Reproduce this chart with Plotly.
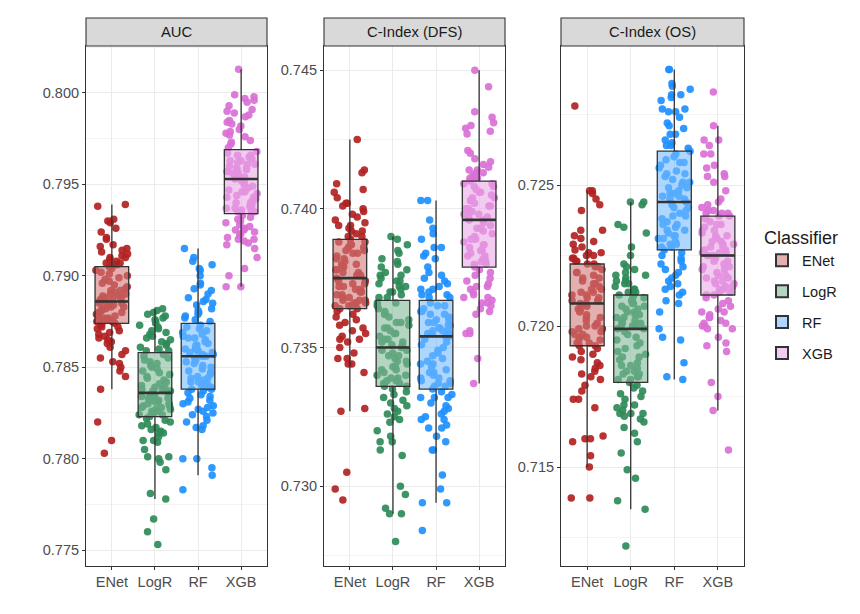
import math
import plotly.graph_objects as go

classifiers = ["ENet", "LogR", "RF", "XGB"]
panels = ["AUC", "C-Index (DFS)", "C-Index (OS)"]
colors = ["#B22222", "#2E8B57", "#1E90FF", "#DA70D6"]

# ---------------- AUC ----------------
auc_enet = [0.7939, 0.7938, 0.7931, 0.7930, 0.7929, 0.7926, 0.7924, 0.7920, 0.7917, 0.7915, 0.7914, 0.7913, 0.7912, 0.7911, 0.7910, 0.7910, 0.7909, 0.7908, 0.7907, 0.7907, 0.7906, 0.7906, 0.7905, 0.7916, 0.7921,
            0.7904, 0.7903, 0.7902, 0.7901, 0.7900, 0.7899, 0.7898, 0.7897, 0.7896, 0.7895, 0.7894, 0.7893, 0.7892, 0.7892, 0.7891, 0.7890, 0.7890, 0.7889, 0.7889, 0.7888, 0.7888, 0.7887, 0.7887, 0.7886, 0.7886,
            0.7885, 0.7885, 0.7884, 0.7884, 0.7883, 0.7883, 0.7882, 0.7882, 0.7881, 0.7881, 0.7880, 0.7880, 0.7879, 0.7879, 0.7878, 0.7878, 0.7877, 0.7877, 0.7876, 0.7876, 0.7875, 0.7875, 0.7875, 0.7874, 0.7874,
            0.7873, 0.7872, 0.7872, 0.7871, 0.7870, 0.7869, 0.7868, 0.7867, 0.7866, 0.7865, 0.7864, 0.7863, 0.7861, 0.7859, 0.7857, 0.7855, 0.7853, 0.7852, 0.7850, 0.7848, 0.7845, 0.7838, 0.7820, 0.7810, 0.7803]
auc_logr = [0.7882, 0.7881, 0.7880, 0.7879, 0.7878, 0.7877, 0.7876, 0.7875, 0.7874, 0.7873, 0.7872, 0.7871, 0.7870, 0.7869, 0.7868, 0.7867, 0.7866, 0.7865, 0.7864, 0.7863, 0.7862, 0.7861, 0.7860, 0.7859, 0.7859,
            0.7857, 0.7856, 0.7855, 0.7854, 0.7853, 0.7852, 0.7851, 0.7850, 0.7849, 0.7848, 0.7847, 0.7846, 0.7845, 0.7844, 0.7843, 0.7842, 0.7841, 0.7840, 0.7839, 0.7839, 0.7838, 0.7838, 0.7837, 0.7837, 0.7836,
            0.7835, 0.7835, 0.7834, 0.7834, 0.7833, 0.7833, 0.7832, 0.7832, 0.7831, 0.7831, 0.7830, 0.7830, 0.7829, 0.7829, 0.7828, 0.7828, 0.7827, 0.7827, 0.7826, 0.7826, 0.7825, 0.7825, 0.7824, 0.7824, 0.7823,
            0.7822, 0.7821, 0.7820, 0.7819, 0.7818, 0.7817, 0.7816, 0.7815, 0.7814, 0.7814, 0.7812, 0.7810, 0.7810, 0.7809, 0.7805, 0.7801, 0.7801, 0.7800, 0.7798, 0.7794, 0.7781, 0.7778, 0.7767, 0.7760, 0.7753]
auc_rf = [0.7915, 0.7910, 0.7908, 0.7906, 0.7904, 0.7903, 0.7900, 0.7896, 0.7895, 0.7893, 0.7892, 0.7890, 0.7888, 0.7887, 0.7886, 0.7885, 0.7884, 0.7882, 0.7881, 0.7880, 0.7879, 0.7878, 0.7877, 0.7876, 0.7875,
          0.7873, 0.7872, 0.7871, 0.7870, 0.7869, 0.7868, 0.7867, 0.7866, 0.7866, 0.7865, 0.7864, 0.7863, 0.7862, 0.7862, 0.7861, 0.7860, 0.7860, 0.7859, 0.7859, 0.7858, 0.7858, 0.7857, 0.7857, 0.7856, 0.7856,
          0.7855, 0.7854, 0.7853, 0.7852, 0.7851, 0.7850, 0.7849, 0.7848, 0.7847, 0.7847, 0.7846, 0.7845, 0.7844, 0.7844, 0.7843, 0.7842, 0.7842, 0.7841, 0.7841, 0.7840, 0.7840, 0.7839, 0.7839, 0.7838, 0.7838,
          0.7837, 0.7836, 0.7835, 0.7834, 0.7833, 0.7832, 0.7831, 0.7830, 0.7829, 0.7828, 0.7827, 0.7826, 0.7825, 0.7824, 0.7823, 0.7821, 0.7820, 0.7818, 0.7817, 0.7816, 0.7800, 0.7800, 0.7795, 0.7791, 0.7783]
auc_xgb = [0.8013, 0.7999, 0.7998, 0.7997, 0.7996, 0.7995, 0.7993, 0.7991, 0.7990, 0.7989, 0.7988, 0.7987, 0.7985, 0.7984, 0.7983, 0.7982, 0.7980, 0.7979, 0.7978, 0.7977, 0.7976, 0.7974, 0.7973, 0.7972, 0.7970,
           0.7968, 0.7967, 0.7966, 0.7966, 0.7965, 0.7964, 0.7963, 0.7963, 0.7962, 0.7961, 0.7961, 0.7960, 0.7959, 0.7959, 0.7958, 0.7958, 0.7957, 0.7957, 0.7956, 0.7956, 0.7955, 0.7955, 0.7954, 0.7954, 0.7953,
           0.7952, 0.7951, 0.7950, 0.7949, 0.7948, 0.7947, 0.7946, 0.7946, 0.7945, 0.7944, 0.7943, 0.7943, 0.7942, 0.7941, 0.7940, 0.7940, 0.7939, 0.7938, 0.7938, 0.7937, 0.7937, 0.7936, 0.7936, 0.7935, 0.7935,
           0.7933, 0.7932, 0.7931, 0.7930, 0.7929, 0.7928, 0.7927, 0.7926, 0.7925, 0.7925, 0.7924, 0.7923, 0.7922, 0.7921, 0.7920, 0.7920, 0.7919, 0.7918, 0.7917, 0.7915, 0.7910, 0.7904, 0.7900, 0.7894, 0.7894]

# ---------------- C-Index (DFS) ----------------
dfs_enet = [0.7425, 0.7414, 0.7413, 0.7409, 0.7407, 0.7406, 0.7404, 0.7402, 0.7402, 0.7401, 0.7400, 0.7399, 0.7398, 0.7397, 0.7396, 0.7395, 0.7394, 0.7394, 0.7393, 0.7392, 0.7392, 0.7391, 0.7390, 0.7390, 0.7389,
            0.7388, 0.7388, 0.7387, 0.7387, 0.7386, 0.7386, 0.7385, 0.7385, 0.7384, 0.7384, 0.7383, 0.7382, 0.7382, 0.7381, 0.7380, 0.7380, 0.7379, 0.7379, 0.7378, 0.7378, 0.7377, 0.7377, 0.7376, 0.7376, 0.7375,
            0.7374, 0.7374, 0.7373, 0.7373, 0.7372, 0.7372, 0.7371, 0.7371, 0.7370, 0.7370, 0.7369, 0.7369, 0.7368, 0.7368, 0.7367, 0.7367, 0.7367, 0.7366, 0.7366, 0.7366, 0.7365, 0.7365, 0.7365, 0.7364, 0.7364,
            0.7363, 0.7362, 0.7361, 0.7360, 0.7359, 0.7358, 0.7357, 0.7356, 0.7355, 0.7354, 0.7353, 0.7353, 0.7352, 0.7350, 0.7348, 0.7346, 0.7346, 0.7344, 0.7344, 0.7341, 0.7328, 0.7327, 0.7305, 0.7299, 0.7295]
dfs_logr = [0.7390, 0.7389, 0.7387, 0.7385, 0.7384, 0.7382, 0.7381, 0.7380, 0.7379, 0.7378, 0.7377, 0.7376, 0.7376, 0.7375, 0.7374, 0.7374, 0.7373, 0.7372, 0.7372, 0.7371, 0.7370, 0.7370, 0.7369, 0.7368, 0.7368,
            0.7366, 0.7366, 0.7365, 0.7364, 0.7363, 0.7362, 0.7362, 0.7361, 0.7360, 0.7359, 0.7359, 0.7358, 0.7357, 0.7357, 0.7356, 0.7355, 0.7355, 0.7354, 0.7353, 0.7353, 0.7352, 0.7352, 0.7351, 0.7351, 0.7350,
            0.7349, 0.7349, 0.7348, 0.7347, 0.7347, 0.7346, 0.7345, 0.7345, 0.7344, 0.7343, 0.7343, 0.7342, 0.7342, 0.7341, 0.7340, 0.7340, 0.7339, 0.7339, 0.7338, 0.7338, 0.7337, 0.7337, 0.7337, 0.7336, 0.7336,
            0.7335, 0.7334, 0.7333, 0.7332, 0.7331, 0.7330, 0.7329, 0.7328, 0.7327, 0.7326, 0.7325, 0.7324, 0.7323, 0.7320, 0.7318, 0.7316, 0.7316, 0.7313, 0.7311, 0.7300, 0.7297, 0.7292, 0.7290, 0.7290, 0.7280]
dfs_rf = [0.7403, 0.7403, 0.7396, 0.7393, 0.7391, 0.7389, 0.7386, 0.7386, 0.7384, 0.7383, 0.7382, 0.7379, 0.7377, 0.7376, 0.7375, 0.7374, 0.7373, 0.7372, 0.7371, 0.7371, 0.7370, 0.7369, 0.7369, 0.7368, 0.7368,
          0.7366, 0.7365, 0.7365, 0.7364, 0.7363, 0.7363, 0.7362, 0.7362, 0.7361, 0.7360, 0.7360, 0.7359, 0.7359, 0.7358, 0.7358, 0.7357, 0.7357, 0.7356, 0.7356, 0.7356, 0.7355, 0.7355, 0.7355, 0.7354, 0.7354,
          0.7353, 0.7352, 0.7351, 0.7350, 0.7349, 0.7348, 0.7347, 0.7346, 0.7345, 0.7344, 0.7344, 0.7343, 0.7342, 0.7341, 0.7341, 0.7340, 0.7339, 0.7339, 0.7338, 0.7338, 0.7337, 0.7337, 0.7336, 0.7336, 0.7335,
          0.7334, 0.7333, 0.7332, 0.7332, 0.7332, 0.7330, 0.7329, 0.7328, 0.7327, 0.7326, 0.7325, 0.7324, 0.7324, 0.7322, 0.7321, 0.7321, 0.7318, 0.7316, 0.7313, 0.7313, 0.7304, 0.7299, 0.7294, 0.7294, 0.7284]
dfs_xgb = [0.7450, 0.7444, 0.7435, 0.7433, 0.7431, 0.7430, 0.7429, 0.7428, 0.7427, 0.7421, 0.7420, 0.7418, 0.7417, 0.7416, 0.7415, 0.7414, 0.7414, 0.7413, 0.7413, 0.7412, 0.7412, 0.7411, 0.7411, 0.7411, 0.7410,
           0.7409, 0.7409, 0.7408, 0.7408, 0.7407, 0.7406, 0.7406, 0.7405, 0.7404, 0.7404, 0.7403, 0.7403, 0.7402, 0.7401, 0.7401, 0.7400, 0.7400, 0.7399, 0.7399, 0.7398, 0.7398, 0.7397, 0.7397, 0.7396, 0.7396,
           0.7395, 0.7394, 0.7393, 0.7393, 0.7392, 0.7391, 0.7390, 0.7389, 0.7389, 0.7388, 0.7387, 0.7387, 0.7386, 0.7385, 0.7385, 0.7384, 0.7383, 0.7383, 0.7382, 0.7382, 0.7381, 0.7381, 0.7380, 0.7380, 0.7379,
           0.7378, 0.7377, 0.7376, 0.7375, 0.7374, 0.7373, 0.7372, 0.7372, 0.7371, 0.7370, 0.7369, 0.7368, 0.7368, 0.7367, 0.7366, 0.7366, 0.7365, 0.7364, 0.7363, 0.7362, 0.7356, 0.7355, 0.7355, 0.7346, 0.7337]

# ---------------- C-Index (OS) ----------------
os_enet = [0.7278, 0.7248, 0.7248, 0.7247, 0.7245, 0.7243, 0.7241, 0.7234, 0.7234, 0.7232, 0.7231, 0.7230, 0.7229, 0.7228, 0.7227, 0.7226, 0.7226, 0.7225, 0.7225, 0.7224, 0.7224, 0.7223, 0.7223, 0.7222, 0.7222,
           0.7221, 0.7221, 0.7220, 0.7219, 0.7219, 0.7218, 0.7217, 0.7217, 0.7216, 0.7215, 0.7215, 0.7214, 0.7213, 0.7213, 0.7212, 0.7212, 0.7211, 0.7211, 0.7210, 0.7210, 0.7209, 0.7209, 0.7209, 0.7208, 0.7208,
           0.7207, 0.7206, 0.7206, 0.7205, 0.7204, 0.7203, 0.7203, 0.7202, 0.7201, 0.7200, 0.7200, 0.7199, 0.7199, 0.7198, 0.7198, 0.7197, 0.7197, 0.7196, 0.7196, 0.7195, 0.7195, 0.7194, 0.7194, 0.7193, 0.7193,
           0.7192, 0.7191, 0.7190, 0.7189, 0.7188, 0.7187, 0.7186, 0.7185, 0.7184, 0.7183, 0.7182, 0.7181, 0.7179, 0.7177, 0.7174, 0.7174, 0.7171, 0.7161, 0.7160, 0.7160, 0.7159, 0.7154, 0.7150, 0.7139, 0.7139]
os_logr = [0.7244, 0.7244, 0.7243, 0.7236, 0.7235, 0.7233, 0.7228, 0.7225, 0.7222, 0.7221, 0.7220, 0.7219, 0.7218, 0.7218, 0.7217, 0.7216, 0.7216, 0.7215, 0.7215, 0.7214, 0.7213, 0.7213, 0.7212, 0.7212, 0.7211,
           0.7211, 0.7210, 0.7210, 0.7209, 0.7208, 0.7208, 0.7207, 0.7207, 0.7206, 0.7206, 0.7205, 0.7205, 0.7204, 0.7204, 0.7203, 0.7203, 0.7202, 0.7202, 0.7201, 0.7201, 0.7200, 0.7200, 0.7200, 0.7199, 0.7199,
           0.7198, 0.7197, 0.7196, 0.7195, 0.7194, 0.7193, 0.7192, 0.7191, 0.7190, 0.7189, 0.7189, 0.7188, 0.7187, 0.7186, 0.7186, 0.7185, 0.7184, 0.7184, 0.7183, 0.7183, 0.7182, 0.7182, 0.7181, 0.7181, 0.7180,
           0.7179, 0.7178, 0.7177, 0.7176, 0.7175, 0.7174, 0.7172, 0.7172, 0.7171, 0.7170, 0.7169, 0.7169, 0.7169, 0.7168, 0.7167, 0.7166, 0.7164, 0.7162, 0.7159, 0.7155, 0.7149, 0.7146, 0.7138, 0.7135, 0.7122]
os_rf = [0.7291, 0.7291, 0.7286, 0.7285, 0.7284, 0.7282, 0.7282, 0.7281, 0.7280, 0.7277, 0.7277, 0.7276, 0.7276, 0.7274, 0.7272, 0.7271, 0.7270, 0.7268, 0.7268, 0.7266, 0.7265, 0.7264, 0.7264, 0.7263, 0.7262,
         0.7261, 0.7260, 0.7259, 0.7258, 0.7258, 0.7257, 0.7256, 0.7255, 0.7254, 0.7254, 0.7253, 0.7252, 0.7251, 0.7251, 0.7250, 0.7249, 0.7249, 0.7248, 0.7247, 0.7247, 0.7246, 0.7246, 0.7245, 0.7245, 0.7244,
         0.7243, 0.7242, 0.7242, 0.7241, 0.7240, 0.7239, 0.7239, 0.7238, 0.7237, 0.7236, 0.7236, 0.7235, 0.7234, 0.7234, 0.7233, 0.7232, 0.7232, 0.7231, 0.7231, 0.7230, 0.7229, 0.7229, 0.7228, 0.7228, 0.7227,
         0.7226, 0.7225, 0.7224, 0.7223, 0.7222, 0.7221, 0.7220, 0.7219, 0.7218, 0.7217, 0.7216, 0.7215, 0.7214, 0.7213, 0.7212, 0.7211, 0.7209, 0.7208, 0.7205, 0.7199, 0.7196, 0.7195, 0.7187, 0.7182, 0.7181]
os_xgb = [0.7283, 0.7271, 0.7266, 0.7266, 0.7264, 0.7261, 0.7261, 0.7257, 0.7256, 0.7254, 0.7253, 0.7253, 0.7251, 0.7248, 0.7245, 0.7244, 0.7243, 0.7242, 0.7241, 0.7241, 0.7240, 0.7240, 0.7240, 0.7239, 0.7239,
          0.7238, 0.7237, 0.7236, 0.7236, 0.7235, 0.7234, 0.7234, 0.7233, 0.7232, 0.7232, 0.7231, 0.7230, 0.7230, 0.7229, 0.7229, 0.7228, 0.7228, 0.7227, 0.7227, 0.7226, 0.7226, 0.7226, 0.7225, 0.7225, 0.7225,
          0.7224, 0.7223, 0.7223, 0.7222, 0.7221, 0.7221, 0.7220, 0.7220, 0.7219, 0.7218, 0.7218, 0.7217, 0.7217, 0.7216, 0.7216, 0.7215, 0.7215, 0.7214, 0.7214, 0.7213, 0.7213, 0.7212, 0.7212, 0.7211, 0.7211,
          0.7210, 0.7209, 0.7208, 0.7207, 0.7206, 0.7205, 0.7205, 0.7204, 0.7203, 0.7203, 0.7202, 0.7201, 0.7201, 0.7200, 0.7200, 0.7199, 0.7199, 0.7196, 0.7194, 0.7193, 0.7191, 0.7180, 0.7175, 0.7170, 0.7156]

points = [
    [auc_enet, auc_logr, auc_rf, auc_xgb],
    [dfs_enet, dfs_logr, dfs_rf, dfs_xgb],
    [os_enet, os_logr, os_rf, os_xgb],
]

# Box statistics: [q1, median, q3, lower whisker, upper whisker]
box_stats = [
    [[0.7874, 0.7886, 0.7905, 0.7838, 0.7939], [0.7823, 0.7836, 0.7858, 0.7778, 0.7882],
     [0.7838, 0.7856, 0.7874, 0.7791, 0.7915], [0.7934, 0.7953, 0.7969, 0.7894, 0.8013]],
    [[0.7364, 0.7375, 0.7389, 0.7327, 0.7425], [0.7336, 0.7350, 0.7367, 0.7290, 0.7390],
     [0.7335, 0.7354, 0.7367, 0.7294, 0.7403], [0.7379, 0.7396, 0.7410, 0.7337, 0.7450]],
    [[0.7193, 0.7208, 0.7222, 0.7150, 0.7248], [0.7180, 0.7199, 0.7211, 0.7135, 0.7244],
     [0.7227, 0.7244, 0.7262, 0.7181, 0.7291], [0.7211, 0.7225, 0.7239, 0.7170, 0.7271]],
]

y_ranges = [[0.77413, 0.80257], [0.72712, 0.74587], [0.71149, 0.72993]]

# ---------------- layout geometry ----------------
W, H = 860, 614
px_x = [(78, 259), (316, 497), (553, 736)]
plot_top, plot_bot, strip_top = 38, 558, 10
ydom = [1 - plot_bot / H, 1 - plot_top / H]

FONT = "Liberation Sans, Arial, sans-serif"
BOX_W = 0.78
JIT = 0.37


def rgba(hexc, mix, a):
    r, g, b = int(hexc[1:3], 16), int(hexc[3:5], 16), int(hexc[5:7], 16)
    r, g, b = [round(c + (255 - c) * mix) for c in (r, g, b)]
    return f"rgba({r},{g},{b},{a})"


def jitter_offset(i, c, p):
    # deterministic hash-style scatter in [-JIT, JIT] (horizontal position only)
    v = math.sin((i + 1) * 12.9898 + c * 78.233 + p * 37.719) * 43758.5453
    return ((v - math.floor(v)) - 0.5) * 2 * JIT


fig = go.Figure()
layout = dict(
    width=W, height=H, margin=dict(l=0, r=0, t=0, b=0),
    paper_bgcolor="white", plot_bgcolor="white",
    font=dict(family=FONT, size=14, color="#4D4D4D"),
    showlegend=True,
)
shapes, annotations = [], []

for p in range(3):
    k = p + 1
    ko = p + 4
    xd = [px_x[p][0] / W, px_x[p][1] / W]
    xs = "" if k == 1 else str(k)
    layout[f"xaxis{xs}"] = dict(
        domain=xd, range=[0.4, 4.6], anchor=f"y{xs}",
        tickmode="array", tickvals=[1, 2, 3, 4], ticktext=classifiers,
        showgrid=True, gridcolor="#EBEBEB", gridwidth=1.1, zeroline=False,
        showline=True, linecolor="#333333", linewidth=1.1, mirror=True,
        ticks="outside", ticklen=3, tickcolor="#333333", tickwidth=1.1,
        tickfont=dict(size=14.5, color="#4D4D4D", family=FONT),
    )
    layout[f"yaxis{xs}"] = dict(
        domain=ydom, range=y_ranges[p], anchor=f"x{xs}",
        dtick=0.005, tick0=0.0, tickformat=".3f",
        showgrid=True, gridcolor="#EBEBEB", gridwidth=1.1, zeroline=False,
        minor=dict(dtick=0.0025, tick0=0.0, showgrid=True, gridcolor="#F3F3F3", gridwidth=0.6, ticks=""),
        showline=True, linecolor="#333333", linewidth=1.1, mirror=True,
        ticks="outside", ticklen=3, tickcolor="#333333", tickwidth=1.1,
        tickfont=dict(size=14.5, color="#4D4D4D", family=FONT),
    )
    # overlay axes (boxes drawn above the jittered points)
    layout[f"xaxis{ko}"] = dict(overlaying=f"x{xs}", range=[0.4, 4.6], visible=False, anchor=f"y{ko}")
    layout[f"yaxis{ko}"] = dict(overlaying=f"y{xs}", range=y_ranges[p], visible=False, anchor=f"x{ko}")

    # jittered points
    for c in range(4):
        vals = points[p][c]
        xs_j = [(c + 1) + jitter_offset(i, c, p) for i in range(len(vals))]
        fig.add_trace(go.Scatter(
            x=xs_j, y=vals, mode="markers", xaxis=f"x{xs}", yaxis=f"y{xs}",
            marker=dict(color=colors[c], size=7.5, opacity=0.92, line=dict(width=0)),
            showlegend=False, hoverinfo="skip", legendgroup=classifiers[c],
        ))
    # boxes
    for c in range(4):
        q1, med, q3, lo, hi = box_stats[p][c]
        fig.add_trace(go.Box(
            x=[c + 1], q1=[q1], median=[med], q3=[q3], lowerfence=[lo], upperfence=[hi],
            name=classifiers[c], legendgroup=classifiers[c], showlegend=(p == 0),
            width=BOX_W, whiskerwidth=0, boxpoints=False,
            fillcolor=rgba(colors[c], 0.4, 0.6),
            line=dict(color="#333333", width=1.3),
            xaxis=f"x{ko}", yaxis=f"y{ko}", hoverinfo="skip",
        ))
    # thicker median lines, as in ggplot
    for c in range(4):
        med = box_stats[p][c][1]
        fig.add_trace(go.Scatter(
            x=[c + 1 - BOX_W / 2, c + 1 + BOX_W / 2], y=[med, med], mode="lines",
            line=dict(color="#333333", width=2.6), xaxis=f"x{ko}", yaxis=f"y{ko}",
            showlegend=False, hoverinfo="skip",
        ))

    # facet strip
    shapes.append(dict(type="rect", xref="paper", yref="paper", x0=xd[0], x1=xd[1],
                       y0=ydom[1], y1=1 - strip_top / H, fillcolor="#D9D9D9",
                       line=dict(color="#333333", width=1.1), layer="above"))
    annotations.append(dict(text=panels[p], xref="paper", yref="paper",
                            x=(xd[0] + xd[1]) / 2, y=(ydom[1] + 1 - strip_top / H) / 2,
                            xanchor="center", yanchor="middle", showarrow=False,
                            font=dict(size=14.8, color="#1A1A1A", family=FONT)))

layout["shapes"] = shapes
layout["annotations"] = annotations
layout["legend"] = dict(
    x=754 / W, y=1 - 213 / H, xanchor="left", yanchor="top",
    title=dict(text="Classifier", font=dict(size=18, color="#1A1A1A", family=FONT)),
    font=dict(size=14.5, color="#1A1A1A", family=FONT),
    tracegroupgap=9, bgcolor="rgba(0,0,0,0)", itemsizing="constant",
)
fig.update_layout(**layout)
fig.write_html("out.html")
